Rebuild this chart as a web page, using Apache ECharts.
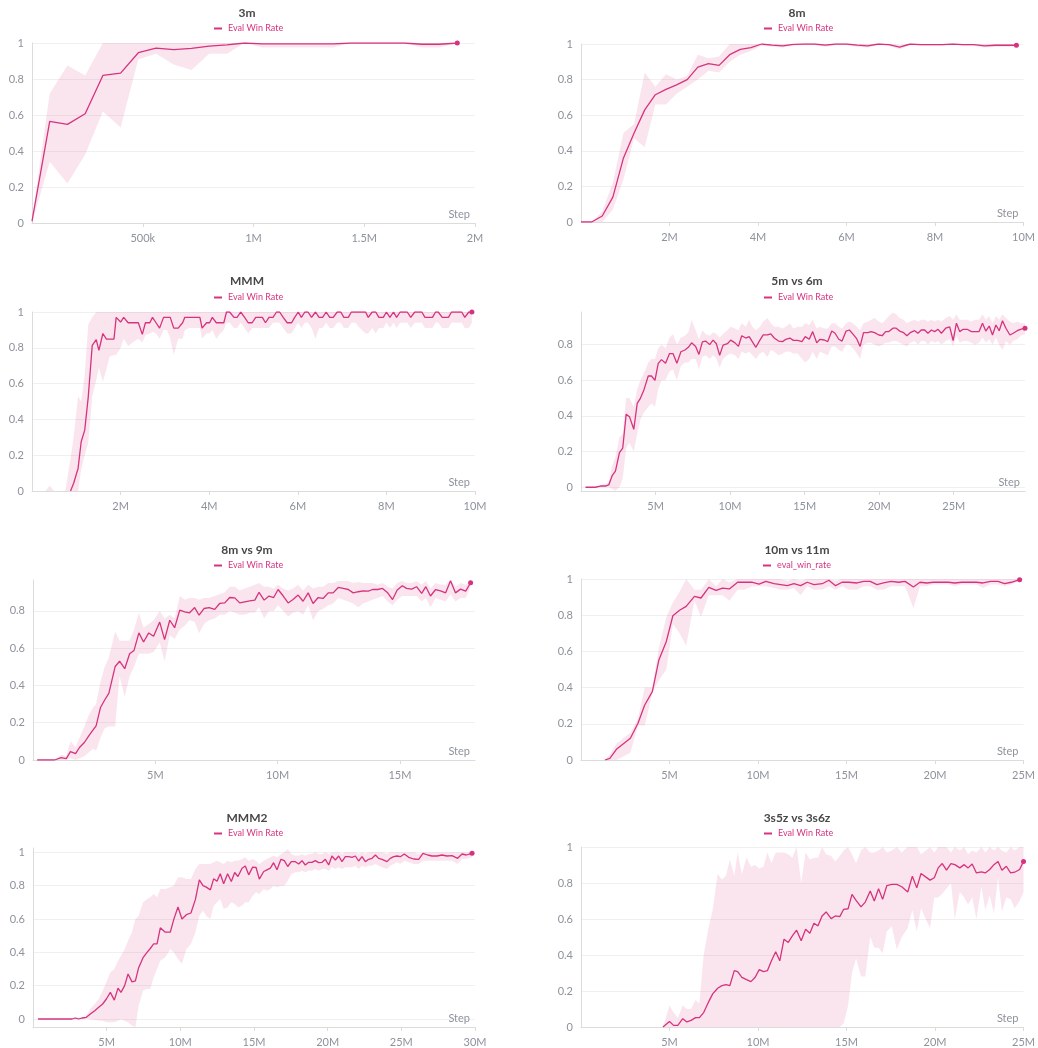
<!DOCTYPE html>
<html>
<head>
<meta charset="utf-8">
<script src="https://cdn.jsdelivr.net/npm/echarts@6/dist/echarts.min.js"></script>
<style>
html,body{margin:0;padding:0;background:#fff;}
#chart{width:1038px;height:1048px;}
</style>
</head>
<body>
<div id="chart"></div>
<script>
// ---------- DATA (steps in millions) ----------
// 3m
const steps3m = [0,0.08,0.16,0.24,0.32,0.40,0.48,0.56,0.64,0.72,0.80,0.88,0.96,1.04,1.12,1.20,1.28,1.36,1.44,1.52,1.60,1.68,1.76,1.84,1.92];
const mean3m  = [0.01,0.565,0.548,0.607,0.82,0.833,0.946,0.972,0.963,0.97,0.983,0.99,1.0,0.995,0.995,0.995,0.995,0.995,1.0,1.0,1.0,1.0,0.993,0.993,1.0];
const lo3m    = [0,0.34,0.22,0.38,0.62,0.53,0.91,0.94,0.88,0.85,0.94,0.94,1.0,0.975,0.975,0.975,0.975,0.975,1.0,1.0,1.0,1.0,0.975,0.975,1.0];
const hi3m    = [0.02,0.72,0.875,0.82,1,1,1,1,1,1,1,1,1,1,1,1,1,1,1,1,1,1,1,1,1];

// 8m
const steps8m = [0,0.24,0.48,0.72,0.96,1.2,1.44,1.68,1.92,2.16, 2.4,2.64,2.88,3.12,3.36,3.6,3.84,4.08,4.32,4.56, 4.8,5.04,5.28,5.52,5.76,6.0,6.24,6.48,6.72,6.96, 7.2,7.44,7.68,7.92,8.16,8.4,8.64,8.88,9.12,9.36, 9.6,9.84];
const mean8m  = [0,0,0.034,0.14,0.36,0.50,0.63,0.715,0.745,0.77, 0.80,0.87,0.89,0.88,0.94,0.97,0.98,1.0,0.994,0.99, 0.998,1.0,1.0,0.994,1.0,1.0,0.994,0.99,1.0,0.996, 0.983,1.0,0.996,0.996,0.996,1.0,0.996,0.996,0.99,0.993, 0.993,0.993];
const lo8m    = [0,0,0,0.07,0.24,0.47,0.42,0.66,0.66,0.72, 0.76,0.80,0.85,0.84,0.90,0.94,0.96,0.99,0.985,0.98, 0.99,0.995,0.995,0.985,0.995,0.995,0.985,0.98,0.995,0.99, 0.97,0.995,0.99,0.99,0.99,0.995,0.99,0.99,0.98,0.985, 0.985,0.985];
const hi8m    = [0,0,0.06,0.22,0.50,0.55,0.84,0.76,0.83,0.80, 0.82,0.94,0.92,0.93,1,1,1,1,1,1, 1,1,1,1,1,1,1,1,1,1, 0.995,1,1,1,1,1,1,1,1,1, 1,1];

// MMM
const stepsMMM = [0.3,0.4,0.5,0.75,0.87,0.94,1.04,1.11,1.19,1.27,
  1.36,1.45,1.51,1.60,1.68,1.75,1.85,1.9,2.0,2.07,
  2.17,2.27,2.4,2.49,2.56,2.66,2.72,2.8,2.88,2.97,
  3.05,3.12,3.2,3.3,3.4,3.45,3.55,3.65,3.79,3.84,
  3.94,4.01,4.07,4.16,4.25,4.33,4.39,4.46,4.56,4.63,
  4.71,4.80,4.88,4.97,5.05,5.12,5.2,5.27,5.35,5.44,
  5.52,5.59,5.67,5.76,5.86,5.93,6.01,6.08,6.16,6.23,
  6.31,6.4,6.48,6.56,6.64,6.72,6.8,6.89,6.97,7.04,
  7.14,7.21,7.3,7.4,7.53,7.59,7.68,7.76,7.83,7.93,
  8.0,8.08,8.16,8.23,8.31,8.4,8.47,8.55,8.64,8.72,
  8.80,8.87,8.95,9.04,9.11,9.17,9.26,9.33,9.40,9.47,
  9.55,9.62,9.7,9.77,9.86,9.93];
const meanMMM = [null,null,null,null,0,0.043,0.126,0.275,0.34,0.526,
  0.814,0.846,0.786,0.88,0.848,0.848,0.848,0.97,0.944,0.97,
  0.94,0.94,0.94,0.875,0.94,0.94,0.97,0.94,0.91,0.97,
  0.97,0.97,0.91,0.91,0.94,0.97,0.97,0.97,0.97,0.91,
  0.94,0.94,0.97,0.94,0.94,0.94,1,1,0.97,0.97,
  1,0.97,0.94,0.94,0.97,0.97,0.97,0.94,0.97,0.97,
  1,1,0.97,0.94,0.94,0.97,1,0.97,1,1,
  0.97,1,0.97,0.97,1,0.97,0.97,1,1,0.97,
  0.97,1,1,1,1,0.97,1,1,0.97,0.97,
  1,0.97,1,0.97,1,1,1,0.97,1,1,
  1,0.97,0.97,0.97,1,1,0.97,0.97,0.97,1,
  1,1,1,0.97,1,1];
const loMMM = [0,0,0,0,0,0,0,0.12,0.2,0.27,
  0.53,0.62,0.69,0.61,0.68,0.75,0.76,0.76,0.8,0.85,
  0.81,0.83,0.85,0.83,0.87,0.88,0.89,0.88,0.85,0.9,
  0.9,0.85,0.76,0.85,0.85,0.9,0.91,0.91,0.91,0.85,
  0.88,0.88,0.9,0.85,0.88,0.9,0.94,0.94,0.91,0.91,
  0.94,0.91,0.88,0.91,0.91,0.91,0.91,0.91,0.91,0.94,
  0.94,0.94,0.91,0.88,0.88,0.91,0.94,0.91,0.94,0.94,
  0.91,0.85,0.91,0.91,0.94,0.91,0.91,0.94,0.94,0.91,
  0.91,0.94,0.94,0.91,0.88,0.88,0.91,0.88,0.91,0.91,
  0.94,0.91,0.94,0.91,0.94,0.94,0.94,0.91,0.94,0.94,
  0.94,0.91,0.91,0.91,0.94,0.94,0.91,0.91,0.91,0.94,
  0.94,0.94,0.94,0.91,0.91,0.94];
const hiMMM = [0,0.03,0,0,0.18,0.3,0.53,0.5,0.65,0.93,
  0.97,1,1,1,1,1,1,1,1,1,
  1,1,1,1,1,1,1,1,1,1,
  1,1,1,1,1,1,1,1,1,1,
  1,1,1,1,1,1,1,1,1,1,
  1,1,1,1,1,1,1,1,1,1,
  1,1,1,1,1,1,1,1,1,1,
  1,1,1,1,1,1,1,1,1,1,
  1,1,1,1,1,1,1,1,1,1,
  1,1,1,1,1,1,1,1,1,1,
  1,1,1,1,1,1,1,1,1,1,
  1,1,1,1,1,1];

// 5m vs 6m
const steps5v6 = [0.3,0.96,1.3,1.64,1.86,2.09,2.31,2.58,2.8,3.03,
  3.25,3.54,3.77,3.99,4.22,4.51,4.73,4.96,5.18,5.4,
  5.67,5.94,6.17,6.43,6.7,6.97,7.2,7.42,7.69,7.91,
  8.14,8.36,8.63,8.86,9.08,9.3,9.53,9.82,10.04,10.33,
  10.56,10.78,11.05,11.28,11.5,11.73,12.0,12.22,12.51,12.73,
  12.96,13.25,13.52,13.74,14.01,14.24,14.53,14.82,15.04,15.31,
  15.54,15.81,16.03,16.32,16.55,16.82,17.04,17.29,17.51,17.78,
  18.0,18.23,18.5,18.72,18.95,19.24,19.46,19.69,19.98,20.2,
  20.43,20.65,20.92,21.14,21.37,21.64,21.86,22.08,22.38,22.6,
  22.82,23.05,23.27,23.5,23.72,23.95,24.17,24.46,24.73,24.96,
  25.18,25.4,25.63,25.9,26.19,26.41,26.7,26.93,27.15,27.38,
  27.6,27.83,28.05,28.27,28.5,28.77,28.99,29.26,29.48,29.78];
const mean5v6 = [0,0,0.007,0.007,0.013,0.065,0.09,0.194,0.22,0.41,
  0.396,0.325,0.47,0.5,0.546,0.624,0.624,0.60,0.695,0.716,
  0.695,0.75,0.75,0.695,0.76,0.77,0.785,0.81,0.79,0.745,
  0.815,0.82,0.80,0.825,0.805,0.74,0.797,0.805,0.825,0.81,
  0.79,0.85,0.837,0.845,0.815,0.785,0.825,0.855,0.855,0.86,
  0.837,0.82,0.817,0.83,0.837,0.824,0.824,0.817,0.845,0.83,
  0.873,0.81,0.83,0.826,0.817,0.876,0.864,0.83,0.82,0.876,
  0.882,0.86,0.832,0.79,0.867,0.867,0.873,0.867,0.854,0.85,
  0.873,0.873,0.892,0.892,0.876,0.867,0.85,0.867,0.878,0.864,
  0.882,0.882,0.864,0.882,0.873,0.886,0.864,0.892,0.9,0.823,
  0.92,0.873,0.886,0.886,0.873,0.873,0.873,0.92,0.876,0.904,
  0.854,0.91,0.878,0.934,0.892,0.854,0.864,0.878,0.886,0.892];
const lo5v6 = [0,0,0,0,0,-0.01,-0.02,0.0,0.05,0.22,
  0.25,0.2,0.3,0.38,0.42,0.45,0.47,0.45,0.55,0.6,
  0.6,0.65,0.66,0.6,0.68,0.7,0.7,0.72,0.72,0.66,
  0.73,0.74,0.72,0.74,0.72,0.67,0.72,0.74,0.75,0.74,
  0.72,0.76,0.75,0.76,0.74,0.72,0.75,0.76,0.73,0.77,
  0.76,0.74,0.75,0.76,0.76,0.75,0.75,0.72,0.7,0.72,
  0.76,0.72,0.76,0.75,0.74,0.79,0.79,0.77,0.76,0.8,
  0.8,0.78,0.75,0.72,0.8,0.81,0.81,0.8,0.79,0.8,
  0.81,0.81,0.82,0.82,0.81,0.8,0.79,0.81,0.82,0.8,
  0.82,0.82,0.8,0.82,0.81,0.82,0.8,0.82,0.83,0.79,
  0.85,0.81,0.82,0.82,0.81,0.8,0.81,0.84,0.81,0.83,
  0.8,0.84,0.8,0.77,0.82,0.8,0.82,0.83,0.85,0.86];
const hi5v6 = [0,0,0.01,0.02,0.03,0.12,0.17,0.28,0.3,0.5,
  0.5,0.45,0.55,0.6,0.64,0.7,0.72,0.72,0.78,0.8,
  0.78,0.84,0.86,0.8,0.84,0.85,0.87,0.94,0.88,0.83,
  0.88,0.86,0.85,0.87,0.86,0.84,0.86,0.88,0.9,0.89,
  0.88,0.92,0.9,0.94,0.9,0.88,0.9,0.93,0.95,0.92,
  0.9,0.9,0.89,0.9,0.92,0.89,0.9,0.9,0.92,0.91,
  0.94,0.89,0.9,0.89,0.89,0.92,0.92,0.9,0.89,0.92,
  0.93,0.92,0.9,0.88,0.92,0.93,0.94,0.95,0.93,0.92,
  0.94,0.96,0.98,0.97,0.95,0.94,0.92,0.93,0.94,0.93,
  0.94,0.94,0.93,0.94,0.93,0.94,0.93,0.95,0.96,0.94,
  0.97,0.94,0.94,0.94,0.93,0.94,0.94,0.97,0.94,0.96,
  0.92,0.96,0.94,0.97,0.95,0.93,0.92,0.93,0.92,0.92];

// 8m vs 9m
const steps8v9 = [0.17,0.88,1.15,1.36,1.53,1.74,1.9,2.1,2.28,2.45,
  2.58,2.76,2.93,3.1,3.36,3.54,3.75,3.95,4.13,4.33,
  4.52,4.73,4.93,5.18,5.38,5.59,5.79,6.0,6.2,6.4,
  6.61,6.79,6.99,7.2,7.43,7.63,7.84,8.04,8.25,8.45,
  8.66,8.86,9.07,9.24,9.45,9.65,9.84,10.02,10.23,10.43,
  10.63,10.84,11.04,11.25,11.45,11.66,11.86,12.07,12.27,12.48,
  12.68,12.89,13.09,13.3,13.5,13.71,13.88,14.09,14.29,14.5,
  14.7,14.89,15.1,15.27,15.48,15.68,15.89,16.06,16.25,16.46,
  16.66,16.87,17.07,17.27,17.48,17.69,17.89];
const mean8v9 = [0,0,0.013,0.007,0.045,0.034,0.067,0.094,0.13,0.16,
  0.183,0.282,0.322,0.358,0.502,0.53,0.49,0.57,0.588,0.682,
  0.633,0.682,0.664,0.74,0.646,0.75,0.71,0.804,0.795,0.79,
  0.818,0.777,0.813,0.818,0.808,0.84,0.843,0.872,0.87,0.843,
  0.849,0.854,0.858,0.9,0.858,0.88,0.872,0.915,0.88,0.843,
  0.861,0.885,0.852,0.897,0.84,0.872,0.867,0.897,0.897,0.926,
  0.921,0.915,0.897,0.903,0.908,0.906,0.915,0.915,0.921,0.897,
  0.861,0.912,0.935,0.921,0.917,0.93,0.894,0.93,0.88,0.915,
  0.908,0.897,0.962,0.897,0.917,0.906,0.951];
const lo8v9 = [0,0,0,0,0.01,0.0,0.01,0.02,0.04,0.06,
  0.05,0.12,0.17,0.18,0.18,0.45,0.34,0.45,0.5,0.57,
  0.57,0.57,0.58,0.63,0.53,0.67,0.65,0.7,0.72,0.75,
  0.74,0.68,0.73,0.75,0.76,0.78,0.78,0.8,0.79,0.78,
  0.78,0.79,0.79,0.82,0.76,0.8,0.8,0.83,0.8,0.77,
  0.79,0.8,0.78,0.83,0.75,0.8,0.81,0.83,0.84,0.87,
  0.86,0.85,0.84,0.82,0.84,0.85,0.86,0.87,0.88,0.85,
  0.83,0.86,0.88,0.88,0.88,0.88,0.85,0.87,0.82,0.87,
  0.86,0.85,0.89,0.85,0.87,0.87,0.93];
const hi8v9 = [0,0,0.03,0.02,0.1,0.07,0.12,0.18,0.24,0.28,
  0.3,0.42,0.5,0.55,0.69,0.64,0.64,0.64,0.7,0.79,
  0.71,0.73,0.75,0.8,0.76,0.78,0.76,0.88,0.86,0.87,
  0.87,0.86,0.87,0.87,0.88,0.89,0.9,0.93,0.93,0.91,
  0.92,0.93,0.94,0.95,0.93,0.93,0.92,0.94,0.92,0.91,
  0.92,0.94,0.91,0.94,0.92,0.93,0.93,0.95,0.95,0.96,
  0.96,0.96,0.95,0.955,0.95,0.95,0.95,0.94,0.95,0.93,
  0.92,0.95,0.96,0.95,0.95,0.96,0.94,0.96,0.92,0.95,
  0.94,0.94,0.965,0.93,0.95,0.94,0.965];

// 10m vs 11m
const steps10v11 = [1.35,1.63,2.0,2.38,2.79,3.22,3.6,4.03,4.4,4.82,
  5.19,5.57,5.94,6.41,6.78,7.22,7.63,8.0,8.38,8.85,
  9.22,9.69,10.06,10.44,10.91,11.28,11.66,12.03,12.41,12.78,
  13.16,13.63,14.0,14.38,14.75,15.12,15.59,15.97,16.34,16.72,
  17.09,17.52,17.94,18.31,18.78,19.15,19.53,19.9,20.37,20.75,
  21.12,21.5,21.96,22.34,22.71,23.14,23.56,23.93,24.31,24.78];
const mean10v11 = [0,0.009,0.059,0.089,0.12,0.203,0.304,0.378,0.553,0.655,
  0.797,0.827,0.849,0.904,0.895,0.954,0.937,0.95,0.945,0.982,
  0.982,0.982,0.972,0.987,0.974,0.969,0.963,0.974,0.963,0.982,
  0.969,0.974,0.993,0.963,0.982,0.982,0.978,0.987,0.987,0.969,
  0.978,0.987,0.982,0.987,0.956,0.982,0.978,0.982,0.982,0.982,
  0.978,0.982,0.982,0.982,0.978,0.987,0.987,0.974,0.982,0.996];
const lo10v11 = [0,0,0,0.02,0.04,0.19,0.19,0.37,0.44,0.5,
  0.75,0.7,0.63,0.88,0.79,0.91,0.91,0.91,0.88,0.94,
  0.94,0.96,0.96,0.96,0.95,0.94,0.94,0.95,0.91,0.96,
  0.94,0.94,0.96,0.94,0.96,0.94,0.94,0.96,0.96,0.94,
  0.94,0.96,0.96,0.96,0.84,0.96,0.96,0.97,0.97,0.97,
  0.96,0.97,0.97,0.97,0.95,0.97,0.97,0.96,0.97,0.99];
const hi10v11 = [0,0.03,0.09,0.12,0.15,0.23,0.4,0.4,0.62,0.79,
  0.87,0.93,1.0,0.94,0.94,1.0,0.96,1.0,0.98,1.0,
  1,1,1,1,1,1,0.99,1,0.99,1,
  1,1,1,0.99,1,1,1,1,1,1,
  1,1,1,1,1,1,1,1,1,1,
  1,1,1,1,1,1,1,1,1,1];

// MMM2
const stepsMMM2 = [0.34,2.65,2.87,3.1,3.33,3.62,3.89,4.19,4.46,4.73,
  4.98,5.25,5.52,5.77,5.97,6.22,6.45,6.72,6.95,7.17,
  7.47,7.74,7.96,8.19,8.42,8.64,8.98,9.32,9.55,9.84,
  10.11,10.41,10.72,11.02,11.29,11.54,11.76,12.04,12.26,12.49,
  12.71,12.94,13.21,13.46,13.69,13.91,14.19,14.41,14.64,14.91,
  15.14,15.36,15.66,15.88,16.11,16.33,16.56,16.83,17.06,17.29,
  17.53,17.81,18.03,18.26,18.48,18.71,18.94,19.16,19.39,19.62,
  19.84,20.07,20.29,20.52,20.75,20.97,21.2,21.43,21.65,21.88,
  22.1,22.33,22.56,22.78,23.01,23.24,23.46,23.69,24.03,24.25,
  24.48,24.71,24.93,25.2,25.5,25.84,26.18,26.47,26.79,27.08,
  27.42,27.76,28.1,28.44,28.82,29.12,29.41,29.8];
const meanMMM2 = [0,0,0.006,0,0.006,0.01,0.03,0.05,0.07,0.09,
  0.12,0.16,0.113,0.185,0.16,0.2,0.27,0.223,0.229,0.308,
  0.368,0.4,0.423,0.451,0.451,0.547,0.521,0.521,0.596,0.672,
  0.6,0.626,0.636,0.716,0.835,0.8,0.791,0.775,0.841,0.827,
  0.871,0.811,0.871,0.825,0.879,0.855,0.905,0.918,0.865,0.911,
  0.909,0.839,0.885,0.895,0.905,0.938,0.895,0.958,0.95,0.915,
  0.944,0.944,0.93,0.95,0.924,0.94,0.94,0.95,0.938,0.94,
  0.958,0.924,0.978,0.954,0.978,0.944,0.974,0.974,0.97,0.978,
  0.948,0.974,0.944,0.958,0.964,0.984,0.964,0.958,0.944,0.964,
  0.974,0.978,0.974,0.99,0.97,0.96,0.958,0.994,0.984,0.978,
  0.978,0.984,0.978,0.98,0.964,0.99,0.984,0.994];
const loMMM2 = [0,0,0,0,0,0,0,-0.005,-0.01,-0.01,
  -0.02,-0.02,-0.02,-0.01,0,-0.01,-0.02,-0.04,-0.048,0.08,
  0.17,0.18,0.18,0.25,0.3,0.35,0.37,0.42,0.4,0.36,
  0.33,0.42,0.45,0.52,0.62,0.65,0.62,0.6,0.68,0.7,
  0.72,0.66,0.67,0.7,0.69,0.67,0.68,0.7,0.7,0.74,
  0.76,0.75,0.78,0.77,0.78,0.8,0.79,0.8,0.8,0.83,
  0.87,0.88,0.88,0.89,0.88,0.89,0.89,0.9,0.89,0.9,
  0.9,0.89,0.91,0.9,0.91,0.9,0.91,0.91,0.91,0.92,
  0.9,0.92,0.91,0.92,0.92,0.93,0.92,0.91,0.9,0.92,
  0.93,0.94,0.93,0.95,0.94,0.93,0.93,0.95,0.95,0.95,
  0.95,0.95,0.95,0.95,0.93,0.96,0.96,0.97];
const hiMMM2 = [0,0,0.01,0.01,0.01,0.02,0.06,0.09,0.12,0.17,
  0.22,0.28,0.3,0.35,0.38,0.42,0.47,0.52,0.6,0.62,
  0.7,0.72,0.73,0.75,0.73,0.78,0.78,0.79,0.8,0.85,
  0.85,0.84,0.84,0.9,0.93,0.93,0.93,0.93,0.94,0.95,
  0.94,0.93,0.95,0.94,0.95,0.95,0.96,0.97,0.95,0.96,
  0.95,0.93,0.95,0.96,0.97,0.98,0.97,0.99,1.0,1.02,
  0.99,0.98,0.98,0.99,0.98,0.99,0.99,1.0,0.99,0.99,
  1.0,0.99,1.0,1.0,1.0,0.99,1.0,1.0,1.0,1.0,
  0.99,1.0,0.99,1.0,1.0,1.0,1.0,1.0,0.99,1.0,
  1.0,1.0,1.0,1.0,1.0,1.0,0.99,1.0,1.0,1.0,
  1.0,1.0,1.0,1.0,1.0,1.0,1.0,1.0];

// 3s5z vs 3s6z
const steps3s5z = [4.63,5.0,5.23,5.47,5.75,5.98,6.22,6.47,6.69,6.93,
  7.2,7.44,7.72,7.96,8.19,8.41,8.66,8.85,9.09,9.35,
  9.6,9.84,10.07,10.31,10.53,10.76,11.0,11.23,11.47,11.71,
  11.94,12.18,12.44,12.69,12.93,13.16,13.39,13.62,13.85,14.13,
  14.37,14.62,14.84,15.09,15.31,15.54,15.82,16.06,16.34,16.57,
  16.81,17.04,17.28,17.56,17.84,18.12,18.46,18.72,18.97,19.21,
  19.47,19.72,19.96,20.18,20.41,20.65,20.9,21.12,21.4,21.65,
  21.87,22.1,22.34,22.62,22.84,23.09,23.33,23.56,23.78,24.03,
  24.27,24.5,24.78,25.0];
const mean3s5z = [0,0.031,0.009,0.009,0.046,0.028,0.037,0.052,0.052,0.08,
  0.138,0.184,0.215,0.23,0.236,0.23,0.313,0.308,0.276,0.263,
  0.252,0.276,0.319,0.308,0.313,0.368,0.418,0.368,0.488,0.47,
  0.506,0.538,0.479,0.543,0.521,0.576,0.562,0.617,0.639,0.602,
  0.617,0.613,0.654,0.657,0.737,0.703,0.667,0.694,0.755,0.7,
  0.768,0.709,0.786,0.792,0.792,0.779,0.75,0.838,0.773,0.853,
  0.834,0.816,0.829,0.884,0.908,0.871,0.908,0.902,0.884,0.902,
  0.884,0.906,0.856,0.862,0.856,0.875,0.902,0.92,0.871,0.893,
  0.856,0.86,0.875,0.92];
const lo3s5z = [0,0,0,0,0,0,0,0,0,0,
  0,0,0,0,0,0,0,0,0,0,
  0,0,0,0,0,0,0,0,0,0,
  0,0,0,0,0,0,0,0,0,0,
  0,0,0.02,0.12,0.3,0.38,0.28,0.28,0.5,0.44,
  0.44,0.41,0.53,0.56,0.43,0.5,0.55,0.65,0.53,0.66,
  0.6,0.55,0.72,0.72,0.74,0.77,0.8,0.6,0.75,0.72,
  0.68,0.72,0.6,0.78,0.65,0.73,0.63,0.83,0.64,0.72,
  0.71,0.66,0.7,0.75];
const hi3s5z = [0,0.12,0.08,0.05,0.12,0.1,0.1,0.15,0.13,0.4,
  0.55,0.65,0.85,0.82,0.84,0.93,0.84,0.97,0.85,0.94,
  0.89,0.9,0.88,0.89,0.97,0.91,0.97,0.97,0.97,0.96,
  0.94,1.0,0.8,0.97,0.93,0.94,0.94,1.0,0.96,0.95,
  0.92,0.95,0.98,1.0,0.96,0.91,0.98,1.0,0.97,0.97,
  0.98,1.0,0.97,0.98,1.0,0.97,1.0,1.0,1.0,0.96,
  0.98,1.0,0.97,1.0,1.0,1.0,0.97,1.0,0.98,1.0,
  0.96,0.98,0.97,1.0,0.97,1.0,0.98,1.0,0.98,0.97,
  1.0,0.98,1.0,1.0];

// ---------- PANELS ----------
const panels = [
  {title:'3m', legend:'Eval Win Rate', steps:steps3m, mean:mean3m, lo:lo3m, hi:hi3m},
  {title:'8m', legend:'Eval Win Rate', steps:steps8m, mean:mean8m, lo:lo8m, hi:hi8m},
  {title:'MMM', legend:'Eval Win Rate', steps:stepsMMM, mean:meanMMM, lo:loMMM, hi:hiMMM},
  {title:'5m vs 6m', legend:'Eval Win Rate', steps:steps5v6, mean:mean5v6, lo:lo5v6, hi:hi5v6},
  {title:'8m vs 9m', legend:'Eval Win Rate', steps:steps8v9, mean:mean8v9, lo:lo8v9, hi:hi8v9},
  {title:'10m vs 11m', legend:'eval_win_rate', steps:steps10v11, mean:mean10v11, lo:lo10v11, hi:hi10v11},
  {title:'MMM2', legend:'Eval Win Rate', steps:stepsMMM2, mean:meanMMM2, lo:loMMM2, hi:hiMMM2},
  {title:'3s5z vs 3s6z', legend:'Eval Win Rate', steps:steps3s5z, mean:mean3s5z, lo:lo3s5z, hi:hi3s5z}
];

// layout (pixels) and axis ranges
const layout = [
  {left:32, top:43, width:443, height:180, cx:247, tTop:7,  lLeft:214, lTop:24,  xMax:2,     xInt:0.5, yMin:0,      yMax:1},
  {left:581,top:44, width:445, height:178, cx:797, tTop:7,  lLeft:764, lTop:24,  xMax:10,    xInt:2,   yMin:0,      yMax:1},
  {left:32, top:312,width:443, height:179, cx:247, tTop:275,lLeft:214, lTop:293, xMax:10,    xInt:2,   yMin:0,      yMax:1},
  {left:581,top:312,width:444, height:179, cx:797, tTop:275,lLeft:764, lTop:293, xMax:29.78, xInt:5,   yMin:-0.021, yMax:0.983},
  {left:33, top:580,width:442, height:180, cx:247, tTop:544,lLeft:214, lTop:561, xMax:18.07, xInt:5,   yMin:0,      yMax:0.966},
  {left:581,top:579,width:445, height:181, cx:797, tTop:544,lLeft:763, lTop:561, xMax:25,    xInt:5,   yMin:0,      yMax:1},
  {left:33, top:848,width:442, height:180, cx:247, tTop:812,lLeft:214, lTop:829, xMax:30,    xInt:5,   yMin:-0.048, yMax:1.026},
  {left:581,top:847,width:445, height:181, cx:797, tTop:812,lLeft:764, lTop:829, xMax:25,    xInt:5,   yMin:0,      yMax:1}
];

const FONT = 'Lato, "Noto Sans", sans-serif';
const LINE = '#d6337f';
const BAND = 'rgba(214,51,127,0.13)';
const LABEL = '#8d929b';
const AXIS = '#dcdcdc';
const GRIDC = '#f0f0f0';

const fmtX = v => v < 1 ? Math.round(v * 1000) + 'k' : (Math.round(v * 100) / 100) + 'M';
const fmtY = v => {
  const r = Math.round(v * 5) / 5;
  return Math.abs(v - r) < 1e-6 ? String(Math.round(r * 10) / 10) : '';
};

const grids = [], xAxes = [], yAxes = [], series = [], titles = [], legends = [], warn = [];

panels.forEach((p, i) => {
  const L = layout[i];
  const n = p.steps.length;
  if (p.mean.length !== n || p.lo.length !== n || p.hi.length !== n) {
    warn.push(p.title + ' ' + n + '/' + p.mean.length + '/' + p.lo.length + '/' + p.hi.length);
  }
  grids.push({left:L.left, top:L.top, width:L.width, height:L.height});
  const xEndAligned = Math.abs(L.xMax / L.xInt - Math.round(L.xMax / L.xInt)) < 1e-9;
  xAxes.push({
    type:'value', gridIndex:i, min:0, max:L.xMax, interval:L.xInt,
    name:'Step', nameLocation:'end', nameGap:-5,
    nameTextStyle:{color:LABEL, fontSize:11, fontFamily:FONT, align:'right', verticalAlign:'bottom', padding:[0,0,3,0]},
    axisLine:{show:true, onZero:false, lineStyle:{color:AXIS, width:1}},
    axisTick:{show:true, length:4, lineStyle:{color:AXIS}},
    axisLabel:{color:LABEL, fontSize:11, fontFamily:FONT, margin:10, showMinLabel:false, showMaxLabel:xEndAligned, formatter:fmtX},
    splitLine:{show:false}
  });
  const yAx = {
    type:'value', gridIndex:i, min:L.yMin, max:L.yMax,
    axisLine:{show:true, lineStyle:{color:AXIS, width:1}},
    axisTick:{show:false},
    axisLabel:{color:LABEL, fontSize:11, fontFamily:FONT, margin:8, formatter:fmtY},
    splitLine:{show:true, showMinLine:false, showMaxLine:(L.yMax === 1), lineStyle:{color:GRIDC, width:1}}
  };
  if (L.yMin === 0) yAx.interval = 0.2; else yAx.splitNumber = 5;
  yAxes.push(yAx);

  // min–max band: one polygon through the axis scales (hi forward, lo backward)
  series.push({
    name:'band' + i, type:'custom', coordinateSystem:'cartesian2d', xAxisIndex:i, yAxisIndex:i,
    data:p.steps.map((s, k) => [s, p.lo[k], p.hi[k]]),
    encode:{x:0, y:[1, 2]},
    clip:true, silent:true, z:1,
    renderItem:(params, api) => {
      if (params.dataIndex !== 0) return null;
      const pts = [];
      for (let k = 0; k < n; k++) pts.push(api.coord([p.steps[k], p.hi[k]]));
      for (let k = n - 1; k >= 0; k--) pts.push(api.coord([p.steps[k], p.lo[k]]));
      return {type:'polygon', shape:{points:pts}, style:{fill:BAND, stroke:null}, silent:true};
    }
  });
  series.push({
    name:p.legend, type:'line', xAxisIndex:i, yAxisIndex:i,
    data:p.steps.map((s, k) => [s, p.mean[k]]),
    color:LINE, lineStyle:{color:LINE, width:1.3},
    symbol:'circle', showSymbol:true, showAllSymbol:true,
    symbolSize:(v, params) => params.dataIndex === n - 1 ? 5 : 0,
    itemStyle:{color:LINE}, emphasis:{disabled:true}, z:3
  });

  titles.push({
    text:p.title, left:L.cx, top:L.tTop, textAlign:'center', padding:0,
    textStyle:{fontSize:12, fontWeight:'bold', color:'#474747', fontFamily:FONT}
  });
  legends.push({
    data:[p.legend], left:L.lLeft, top:L.lTop, padding:0, icon:'rect', itemWidth:8, itemHeight:2,
    selectedMode:false, textStyle:{fontSize:9, color:LINE, fontFamily:FONT, padding:[0,0,0,1]}
  });
});

const chart = echarts.init(document.getElementById('chart'), null, {renderer:'canvas'});
chart.setOption({
  backgroundColor:'#ffffff',
  animation:false,
  title:titles,
  legend:legends,
  grid:grids,
  xAxis:xAxes,
  yAxis:yAxes,
  series:series,
  graphic: warn.length ? [{type:'text', left:400, top:500, style:{text:'LEN MISMATCH ' + warn.join(' | '), fill:'red', fontSize:14}}] : []
});
</script>
</body>
</html>
